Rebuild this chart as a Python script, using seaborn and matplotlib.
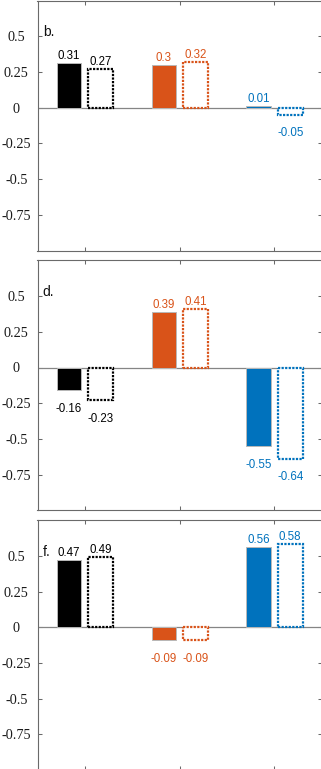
import matplotlib
matplotlib.use('Agg')
import matplotlib.pyplot as plt
import pandas as pd
import seaborn as sns

# ---------------- data ----------------
categories = ['c1', 'c2', 'c3']
kinds = ['solid', 'dotted']
panel_labels = ['b.', 'd.', 'f.']
solid_b = [0.31, 0.30, 0.01]
dotted_b = [0.27, 0.32, -0.05]
solid_d = [-0.16, 0.39, -0.55]
dotted_d = [-0.23, 0.41, -0.64]
solid_f = [0.47, -0.09, 0.56]
dotted_f = [0.49, -0.09, 0.58]
category_colors = ['#000000', '#D95319', '#0072BD']
yticks = [-0.75, -0.5, -0.25, 0, 0.25, 0.5]
ytick_labels = ['-0.75', '-0.5', '-0.25', '0', '0.25', '0.5']

panels = [
    (panel_labels[0], solid_b, dotted_b),
    (panel_labels[1], solid_d, dotted_d),
    (panel_labels[2], solid_f, dotted_f),
]

sns.set_theme(style='white')
plt.rcParams['font.family'] = ['Liberation Sans', 'DejaVu Sans']

W, H = 321, 769
fig = plt.figure(figsize=(W / 100, H / 100), dpi=100)

# axes boxes in pixels (left, top, right, bottom)
boxes = [(37.5, 0.6, 321.8, 250.6),
         (37.5, 260.4, 321.8, 510.3),
         (37.5, 520.2, 321.8, 770.1)]

spine_col = '#6a6a6a'

for (plabel, solid, dotted), (l, t, r, b) in zip(panels, boxes):
    ax = fig.add_axes([l / W, (H - b) / H, (r - l) / W, (b - t) / H])
    df = pd.DataFrame({
        'cat': categories * 2,
        'kind': [kinds[0]] * 3 + [kinds[1]] * 3,
        'value': list(solid) + list(dotted),
    })
    sns.barplot(data=df, x='cat', y='value', hue='kind', order=categories,
                hue_order=kinds, width=0.667, gap=0.22, errorbar=None,
                legend=False, ax=ax)
    ax.axhline(0, color='#858585', lw=0.9, zorder=0.8)

    for p in ax.patches:
        cx = p.get_x() + p.get_width() / 2
        ci = int(round(cx))
        col = category_colors[ci]
        if cx < ci:
            p.set_facecolor(col)
            p.set_edgecolor('#b8b8b8')
            p.set_linewidth(0.7)
            val = solid[ci]
        else:
            p.set_facecolor('white')
            p.set_edgecolor(col)
            p.set_linewidth(1.6)
            p.set_linestyle((0, (1, 0.6)))
            p.set_capstyle('butt')
            p.set_joinstyle('miter')
            val = dotted[ci]
        p.set_zorder(2)
        txt = f'{val:g}'
        if val >= 0:
            ax.annotate(txt, (cx, val), xytext=(0, 2.9), textcoords='offset points',
                        ha='center', va='baseline', fontsize=8.3, color=col,
                        family=['Liberation Sans', 'DejaVu Sans'])
        else:
            ax.annotate(txt, (cx, val), xytext=(0, -9.0), textcoords='offset points',
                        ha='center', va='top', fontsize=8.3, color=col,
                        family=['Liberation Sans', 'DejaVu Sans'])

    ax.set_xlim(-0.5, 2.5)
    ax.set_ylim(-1, 0.75)
    ax.set_yticks(yticks, ytick_labels)
    ax.set_xticks(range(len(categories)))
    ax.set_xticklabels([])
    ax.set_xlabel('')
    ax.set_ylabel('')
    for lab in ax.get_yticklabels():
        lab.set_fontfamily(['Liberation Serif', 'DejaVu Serif'])
        lab.set_fontsize(10.3)
        lab.set_horizontalalignment('center')
        lab.set_color('#1a1a1a')
    ax.tick_params(axis='both', which='both', direction='in', top=True, right=True,
                   bottom=True, left=True, length=3, width=0.75, color=spine_col)
    ax.tick_params(axis='y', pad=15.3)
    for s in ax.spines.values():
        s.set_visible(True)
        s.set_color(spine_col)
        s.set_linewidth(0.8)
    ax.text(-0.444, 0.5, plabel, ha='left', va='baseline', fontsize=10,
            color='#111111', family=['Liberation Sans', 'DejaVu Sans'])

fig.savefig('out.png', dpi=100)
